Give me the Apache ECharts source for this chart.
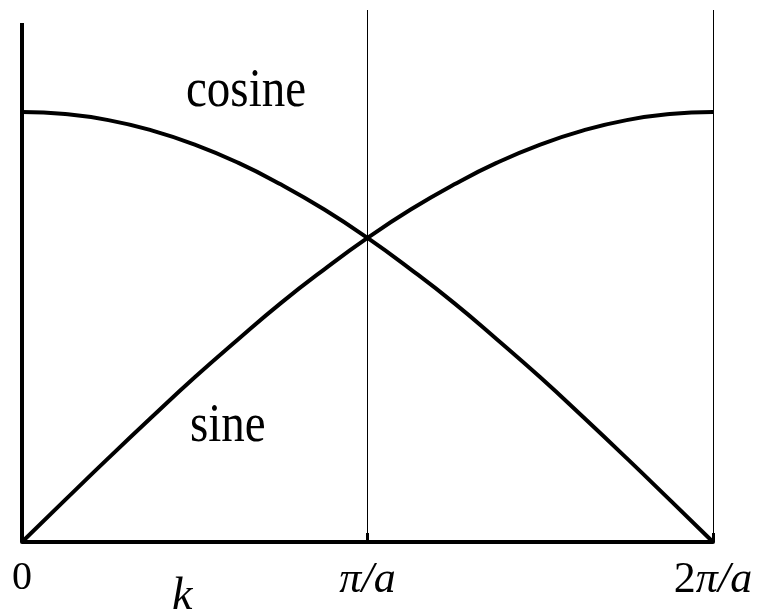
<!DOCTYPE html>
<html>
<head>
<meta charset="utf-8">
<script src="https://cdn.jsdelivr.net/npm/echarts@6/dist/echarts.min.js"></script>
<style>
  html, body { margin: 0; padding: 0; background: #fff; }
  #chart { width: 768px; height: 616px; }
</style>
</head>
<body>
<div id="chart"></div>
<script>
  // k in units of pi/a
  var kValues = [0, 0.125, 0.25, 0.375, 0.5, 0.625, 0.75, 0.875, 1,
                 1.125, 1.25, 1.375, 1.5, 1.625, 1.75, 1.875, 2];
  var cosineValues = [1.000, 0.995, 0.981, 0.957, 0.924, 0.882, 0.831, 0.773, 0.707,
                      0.634, 0.556, 0.471, 0.383, 0.290, 0.195, 0.098, 0.000];
  var sineValues = [0.000, 0.098, 0.195, 0.290, 0.383, 0.471, 0.556, 0.634, 0.707,
                    0.773, 0.831, 0.882, 0.924, 0.957, 0.981, 0.995, 1.000];
  var tickLabels = ['0', 'π/a', '2π/a'];
  var yTop = 1.237;      // top of the thin vertical lines
  var yAxisTop = 1.207;  // top of the left axis line

  var serif = "Liberation Serif";

  function pairs(xs, ys){
    var out = [];
    for(var i = 0, len = xs.length; i < len; i++){
      out.push([xs[i], ys[i]]);
    }
    return out;
  }

  var chart = echarts.init(document.getElementById('chart'));

  var option = {
    backgroundColor: '#fff',
    animation: false,
    grid: {
      left: 22,
      right: 55,
      top: 10,
      bottom: 74,
      outerBoundsMode: 'none'
    },
    xAxis: {
      type: 'value',
      min: 0,
      max: 2,
      interval: 1,
      splitLine: { show: false },
      axisLine: { lineStyle: { color: '#000', width: 4 } },
      axisTick: {
        inside: true,
        length: 9,
        lineStyle: { color: '#000', width: 3 }
      },
      axisLabel: {
        margin: 16,
        formatter: function(v){
          if(v === 0) return '{u0|' + tickLabels[0] + '}';
          if(v === 1) return '{i|' + tickLabels[1] + '}';
          if(v === 2) return '{u|2}{i|π/a}';
          return '';
        },
        rich: {
          u0: { fontFamily: serif, fontSize: 40, color: '#000' },
          u: { fontFamily: serif, fontSize: 44, color: '#000' },
          i: { fontFamily: serif, fontSize: 44, fontStyle: 'italic', color: '#000' }
        }
      }
    },
    yAxis: {
      type: 'value',
      min: 0,
      max: yTop,
      show: false
    },
    graphic: [
      {
        type: 'text', x: 186, y: 92, scaleY: 1.15,
        style: { text: 'cosine', fontFamily: serif, fontSize: 47, fill: '#000', verticalAlign: 'middle' }
      },
      {
        type: 'text', x: 190, y: 427, scaleY: 1.15,
        style: { text: 'sine', fontFamily: serif, fontSize: 47, fill: '#000', verticalAlign: 'middle' }
      },
      {
        type: 'text', x: 172, y: 597,
        style: { text: 'k', fontFamily: serif, fontSize: 46, fontStyle: 'italic', fill: '#000', verticalAlign: 'middle' }
      }
    ],
    series: [
      {
        name: 'cosine',
        type: 'line',
        smooth: true,
        showSymbol: false,
        clip: false,
        data: pairs(kValues, cosineValues),
        lineStyle: { color: '#000', width: 4 },
        markLine: {
          silent: true,
          symbol: 'none',
          label: { show: false },
          data: [
            [{ coord: [1, 0], lineStyle: { color: '#000', width: 1, type: 'solid' } }, { coord: [1, yTop] }],
            [{ coord: [2, 0], lineStyle: { color: '#000', width: 1, type: 'solid' } }, { coord: [2, yTop] }],
            [{ coord: [0, 0], lineStyle: { color: '#000', width: 4, type: 'solid' } }, { coord: [0, yAxisTop] }]
          ]
        }
      },
      {
        name: 'sine',
        type: 'line',
        smooth: true,
        showSymbol: false,
        clip: false,
        data: pairs(kValues, sineValues),
        lineStyle: { color: '#000', width: 4 }
      }
    ]
  };

  chart.setOption(option);
</script>
</body>
</html>
